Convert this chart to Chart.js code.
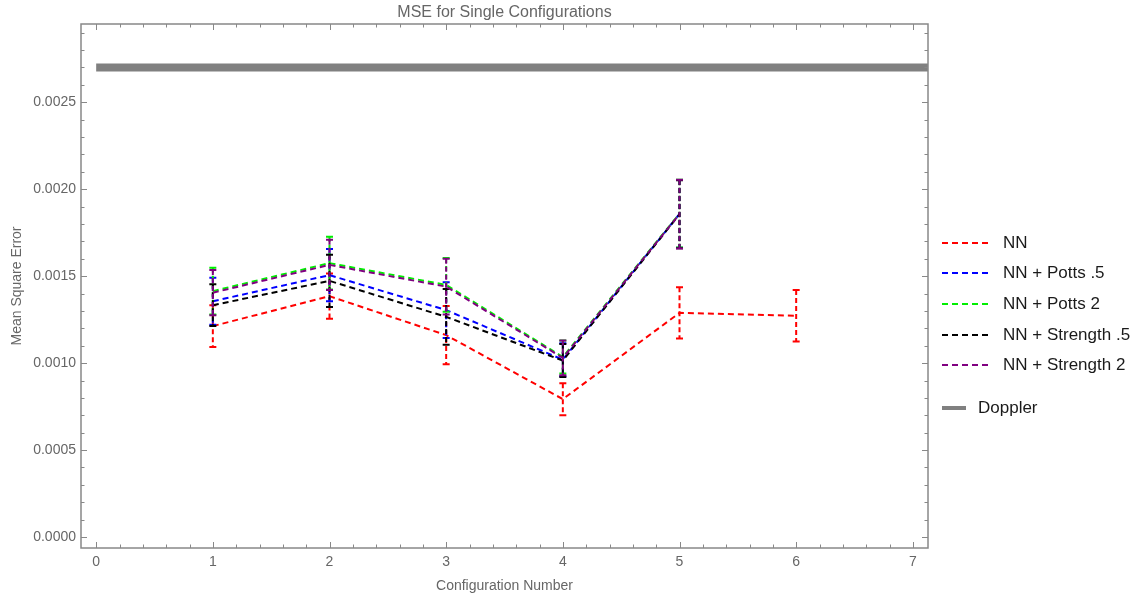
<!DOCTYPE html>
<html>
<head>
    <title>MSE for Single Configurations</title>
    <script src="https://cdn.jsdelivr.net/npm/chart.js@4.4.0/dist/chart.umd.min.js"></script>
    <style>
        body { margin: 0; background: #fff; }
        #wrap { position: relative; width: 1143px; height: 597px; }
    </style>
</head>
<body>
<div id="wrap"><canvas id="stage" width="1143" height="597"></canvas></div>
<script>
    // configuration numbers on the x axis
    var configs = [1, 2, 3, 4, 5, 6];

    // mean square error per configuration (null = not run)
    var nn         = [0.001213, 0.001385, 0.001161, 0.000793, 0.001289, 0.001272];
    var nnErr      = [0.000120, 0.000130, 0.000168, 0.000092, 0.000147, 0.000148];
    var potts05    = [0.001356, 0.001506, 0.001305, 0.001020, 0.001858, null];
    var potts05Err = [0.000135, 0.000150, 0.000160, 0.000095, 0.000195, null];
    var potts2     = [0.001414, 0.001575, 0.001450, 0.001035, 0.001860, null];
    var potts2Err  = [0.000135, 0.000152, 0.000155, 0.000095, 0.000195, null];
    var str05      = [0.001333, 0.001473, 0.001266, 0.001015, 0.001856, null];
    var str05Err   = [0.000120, 0.000150, 0.000160, 0.000095, 0.000195, null];
    var str2       = [0.001405, 0.001565, 0.001440, 0.001030, 0.001857, null];
    var str2Err    = [0.000130, 0.000145, 0.000160, 0.000100, 0.000198, null];

    // doppler baseline (flat)
    var dopplerX = [0, 8];
    var doppler  = [0.0027, 0.0027];

    // tick labels
    var xTicks = [0, 1, 2, 3, 4, 5, 6, 7];
    var yTicks = [0, 0.0005, 0.0010, 0.0015, 0.0020, 0.0025];

    var FONT = "'Liberation Sans', Arial, sans-serif";
    Chart.defaults.font.family = FONT;

    function pts(xs, vals) {
        var out = [];
        for (var i = 0; i < xs.length; i++) {
            if (vals[i] != null) out.push({x: xs[i], y: vals[i]});
        }
        return out;
    }

    var series = [
        {label: 'NN',                 vals: nn,      err: nnErr,      color: '#ff0000'},
        {label: 'NN + Potts .5',      vals: potts05, err: potts05Err, color: '#0000ff'},
        {label: 'NN + Potts 2',       vals: potts2,  err: potts2Err,  color: '#00ee00'},
        {label: 'NN + Strength .5',   vals: str05,   err: str05Err,   color: '#000000'},
        {label: 'NN + Strength 2',    vals: str2,    err: str2Err,    color: '#800080'}
    ];

    var datasets = [];
    for (var i = 0; i < series.length; i++) {
        datasets.push({
            label: series[i].label,
            data: pts(configs, series[i].vals),
            errors: series[i].err,
            borderColor: series[i].color,
            borderWidth: 2,
            borderDash: [6, 4],
            pointRadius: 0,
            tension: 0,
            fill: false,
            clip: 0,
            order: series.length - i + 1
        });
    }
    datasets.push({
        label: 'Doppler',
        data: pts(dopplerX, doppler),
        borderColor: '#808080',
        borderWidth: 8,
        pointRadius: 0,
        fill: false,
        clip: 0,
        order: 100
    });

    // error bars, drawn right after each series so the stacking matches
    var errorBars = {
        id: 'errorBars',
        afterDatasetDraw: function (chart, args) {
            var ds = chart.data.datasets[args.index];
            if (!ds.errors) return;
            var xs = args.meta.xScale, ys = args.meta.yScale, ctx = chart.ctx;
            ctx.save();
            ctx.strokeStyle = ds.borderColor;
            ctx.lineWidth = 2;
            for (var j = 0; j < ds.data.length; j++) {
                var e = ds.errors[j];
                if (e == null) continue;
                var px = xs.getPixelForValue(ds.data[j].x);
                var top = ys.getPixelForValue(ds.data[j].y + e);
                var bot = ys.getPixelForValue(ds.data[j].y - e);
                ctx.setLineDash([5, 3]);
                ctx.beginPath();
                ctx.moveTo(px, top);
                ctx.lineTo(px, bot);
                ctx.stroke();
                ctx.setLineDash([]);
                ctx.beginPath();
                ctx.moveTo(px - 3.5, top); ctx.lineTo(px + 3.5, top);
                ctx.moveTo(px - 3.5, bot); ctx.lineTo(px + 3.5, bot);
                ctx.stroke();
            }
            ctx.restore();
        }
    };

    // mathematica style frame: box with inward ticks on all four sides
    var frame = {
        id: 'frame',
        afterDatasetsDraw: function (chart) {
            var a = chart.chartArea, ctx = chart.ctx;
            var xs = chart.scales.x, ys = chart.scales.y;
            ctx.save();
            ctx.strokeStyle = '#888';
            ctx.lineWidth = 1.5;
            ctx.strokeRect(a.left, a.top, a.right - a.left, a.bottom - a.top);
            ctx.lineWidth = 1;
            ctx.beginPath();
            for (var k = 0; k <= 36; k++) {
                var v = k * 0.2;
                if (v < xs.min || v > xs.max) continue;
                var px = Math.round(xs.getPixelForValue(v)) + 0.5;
                var len = (k % 5 === 0) ? 6 : 3.5;
                ctx.moveTo(px, a.bottom); ctx.lineTo(px, a.bottom - len);
                ctx.moveTo(px, a.top); ctx.lineTo(px, a.top + len);
            }
            for (var m = 0; m <= 30; m++) {
                var w = m * 0.0001;
                if (w < ys.min || w > ys.max) continue;
                var py = Math.round(ys.getPixelForValue(w)) + 0.5;
                var l2 = (m % 5 === 0) ? 6 : 3.5;
                ctx.moveTo(a.left, py); ctx.lineTo(a.left + l2, py);
                ctx.moveTo(a.right, py); ctx.lineTo(a.right - l2, py);
            }
            ctx.stroke();

            // plot label centred over the frame
            ctx.fillStyle = '#666';
            ctx.font = '16px ' + FONT;
            ctx.textAlign = 'center';
            ctx.textBaseline = 'middle';
            ctx.fillText('MSE for Single Configurations', (a.left + a.right) / 2, 13);
            ctx.restore();
        }
    };

    // legend on the right, doppler set apart
    var sideLegend = {
        id: 'sideLegend',
        afterDraw: function (chart) {
            var ctx = chart.ctx;
            var rows = [243, 273, 304, 335, 365, 408];
            ctx.save();
            ctx.font = '17px ' + FONT;
            ctx.textBaseline = 'middle';
            ctx.fillStyle = '#1a1a1a';
            chart.data.datasets.forEach(function (ds, i) {
                var y = rows[i];
                ctx.strokeStyle = ds.borderColor;
                if (ds.borderDash) {
                    ctx.lineWidth = 2;
                    ctx.setLineDash([6, 4]);
                    ctx.beginPath(); ctx.moveTo(942, y); ctx.lineTo(992, y); ctx.stroke();
                    ctx.setLineDash([]);
                    ctx.fillText(ds.label, 1003, y);
                } else {
                    ctx.lineWidth = 4;
                    ctx.beginPath(); ctx.moveTo(942, y); ctx.lineTo(966, y); ctx.stroke();
                    ctx.fillText(ds.label, 978, y);
                }
            });
            ctx.restore();
        }
    };

    var chart = new Chart(document.getElementById('stage'), {
        type: 'line',
        data: {datasets: datasets},
        plugins: [errorBars, frame, sideLegend],
        options: {
            responsive: false,
            animation: false,
            layout: {padding: {left: 0, right: 215, top: 24, bottom: 0}},
            plugins: {legend: {display: false}, title: {display: false}, tooltip: {enabled: false}},
            scales: {
                x: {
                    type: 'linear',
                    min: -0.13,
                    max: 7.13,
                    afterBuildTicks: function (s) { s.ticks = xTicks.map(function (v) { return {value: v}; }); },
                    afterFit: function (s) { s.height = 49; },
                    grid: {display: false, drawTicks: false},
                    border: {display: false},
                    ticks: {color: '#666', font: {size: 14}, padding: 6, maxRotation: 0},
                    title: {display: true, text: 'Configuration Number', color: '#666', font: {size: 14}, padding: {top: 0, bottom: 2}}
                },
                y: {
                    type: 'linear',
                    min: -0.000063,
                    max: 0.00295,
                    afterBuildTicks: function (s) { s.ticks = yTicks.map(function (v) { return {value: v}; }); },
                    afterFit: function (s) { s.width = 81; },
                    grid: {display: false, drawTicks: false},
                    border: {display: false},
                    ticks: {color: '#666', font: {size: 14}, padding: 5, callback: function (v) { return v.toFixed(4); }},
                    title: {display: true, text: 'Mean Square Error', color: '#666', font: {size: 14}, padding: {top: 9, bottom: 0}}
                }
            }
        }
    });
</script>
</body>
</html>
